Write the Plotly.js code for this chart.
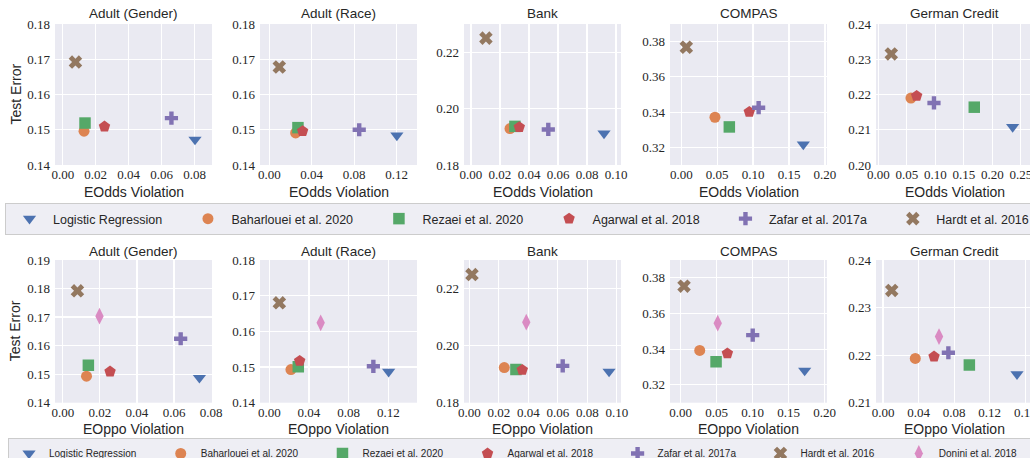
<!DOCTYPE html>
<html>
<head>
<meta charset="utf-8">
<script src="https://cdn.plot.ly/plotly-3.0.1.min.js"></script>
<style>
html, body { margin: 0; padding: 0; overflow: hidden; background: #ffffff; }
#chart { width: 1100px; height: 458px; }
</style>
</head>
<body>
<div id="chart"></div>
<script>
// ---------------- data ----------------
const datasets = ['Adult (Gender)', 'Adult (Race)', 'Bank', 'COMPAS', 'German Credit'];
const methods = ['Logistic Regression', 'Baharlouei et al. 2020', 'Rezaei et al. 2020',
                 'Agarwal et al. 2018', 'Zafar et al. 2017a', 'Hardt et al. 2016', 'Donini et al. 2018'];
const xTitles = ['EOdds Violation', 'EOppo Violation'];
const yTitle = 'Test Error';

// EOdds (top row), values per dataset in the order of `datasets`
const lrEoddsViol   = [0.0802, 0.1203, 0.0917, 0.1699, 0.2357];
const lrEoddsErr    = [0.1472, 0.1484, 0.1912, 0.3217, 0.2108];
const bahEoddsViol  = [0.0129, 0.0248, 0.0269, 0.0469, 0.0573];
const bahEoddsErr   = [0.1496, 0.1491, 0.1929, 0.3371, 0.2190];
const rezEoddsViol  = [0.0135, 0.0270, 0.0303, 0.0669, 0.1684];
const rezEoddsErr   = [0.1519, 0.1506, 0.1937, 0.3316, 0.2164];
const agaEoddsViol  = [0.0253, 0.0314, 0.0333, 0.0947, 0.0673];
const agaEoddsErr   = [0.1509, 0.1496, 0.1934, 0.3401, 0.2196];
const zafEoddsViol  = [0.0659, 0.0848, 0.0533, 0.1077, 0.0977];
const zafEoddsErr   = [0.1533, 0.1500, 0.1926, 0.3425, 0.2176];
const harEoddsViol  = [0.0077, 0.0094, 0.0103, 0.0070, 0.0228];
const harEoddsErr   = [0.1692, 0.1678, 0.2250, 0.3768, 0.2315];

// EOppo (bottom row)
const lrEoppoViol   = [0.0737, 0.1203, 0.0947, 0.1722, 0.1507];
const lrEoppoErr    = [0.1487, 0.1487, 0.1909, 0.3280, 0.2160];
const bahEoppoViol  = [0.0128, 0.0218, 0.0237, 0.0264, 0.0363];
const bahEoppoErr   = [0.1493, 0.1493, 0.1923, 0.3393, 0.2193];
const rezEoppoViol  = [0.0138, 0.0292, 0.0316, 0.0491, 0.0971];
const rezEoppoErr   = [0.1531, 0.1501, 0.1916, 0.3329, 0.2179];
const agaEoppoViol  = [0.0255, 0.0306, 0.0359, 0.0648, 0.0574];
const agaEoppoErr   = [0.1509, 0.1517, 0.1915, 0.3376, 0.2197];
const zafEoppoViol  = [0.0636, 0.1049, 0.0633, 0.1000, 0.0735];
const zafEoppoErr   = [0.1624, 0.1502, 0.1929, 0.3479, 0.2205];
const harEoppoViol  = [0.0079, 0.0101, 0.0018, 0.0046, 0.0098];
const harEoppoErr   = [0.1792, 0.1680, 0.2249, 0.3753, 0.2336];
const donEoppoViol  = [0.0198, 0.0518, 0.0386, 0.0514, 0.0630];
const donEoppoErr   = [0.1703, 0.1624, 0.2082, 0.3546, 0.2239];

// ---------------- style ----------------
const colors  = ['#4C72B0', '#DD8452', '#55A868', '#C44E52', '#8172B3', '#937860', '#DA8BC3'];
const symbols = ['triangle-down', 'circle', 'square', 'pentagon', 'cross', 'x', 'diamond-tall'];
const sizes   = [11.5, 11, 11.5, 12, 11, 12, 12];

const W = 1100, H = 458;
const colLeft = [55, 260, 464, 670, 876];
const panelW = 157;
const rowTop = [24, 260];
const rowBottom = [165, 402.7];
const xRanges = [
  [[-0.0047, 0.0905], [-0.0088, 0.1393], [-0.0048, 0.1034], [-0.0157, 0.2029], [-0.0040, 0.2714]],
  [[-0.0042, 0.0805], [-0.0094, 0.1489], [-0.0036, 0.1028], [-0.0149, 0.2032], [-0.0079, 0.1687]]
];
const yRanges = [
  [[0.14, 0.18], [0.14, 0.18], [0.18, 0.23], [0.31, 0.39], [0.20, 0.24]],
  [[0.14, 0.19], [0.14, 0.18], [0.18, 0.23], [0.31, 0.39], [0.21, 0.24]]
];
const xDticks = [[0.02, 0.04, 0.02, 0.05, 0.05], [0.02, 0.04, 0.02, 0.05, 0.04]];
const yDticks = [[0.01, 0.01, 0.02, 0.02, 0.01], [0.01, 0.01, 0.02, 0.02, 0.01]];

const rows = [
  { viol: [lrEoddsViol, bahEoddsViol, rezEoddsViol, agaEoddsViol, zafEoddsViol, harEoddsViol],
    err:  [lrEoddsErr,  bahEoddsErr,  rezEoddsErr,  agaEoddsErr,  zafEoddsErr,  harEoddsErr] },
  { viol: [lrEoppoViol, bahEoppoViol, rezEoppoViol, agaEoppoViol, zafEoppoViol, harEoppoViol, donEoppoViol],
    err:  [lrEoppoErr,  bahEoppoErr,  rezEoppoErr,  agaEoppoErr,  zafEoppoErr,  harEoppoErr,  donEoppoErr] }
];

const textColor = '#262626';
const sansFont = 'Liberation Sans, Arial, sans-serif';
const serifFont = 'Liberation Serif, Times New Roman, serif';
// trailing non-breaking spaces widen the column spacing of the horizontal legends
const legendPad = ['\u00a0\u00a0\u00a0\u00a0\u00a0', '\u00a0\u00a0\u00a0\u00a0\u00a0\u00a0\u00a0'];

const traces = [];
const layout = {
  width: W, height: H,
  margin: { l: 0, r: 0, t: 0, b: 0, pad: 0, autoexpand: false },
  paper_bgcolor: '#ffffff',
  plot_bgcolor: '#EAEAF2',
  font: { family: sansFont, color: textColor },
  showlegend: true,
  annotations: [],
  legend: {
    orientation: 'h', xref: 'paper', yref: 'paper',
    x: 5 / W, xanchor: 'left', y: (H - 203) / H, yanchor: 'top',
    bgcolor: '#EEEEF4', bordercolor: '#CCCCCC', borderwidth: 1,
    font: { family: sansFont, size: 12.5, color: textColor },
    itemwidth: 37, traceorder: 'normal'
  },
  legend2: {
    orientation: 'h', xref: 'paper', yref: 'paper',
    x: 8 / W, xanchor: 'left', y: (H - 438) / H, yanchor: 'top',
    bgcolor: '#EEEEF4', bordercolor: '#CCCCCC', borderwidth: 1,
    font: { family: sansFont, size: 10, color: textColor },
    itemwidth: 30, traceorder: 'normal'
  }
};

for (let r = 0; r < 2; r++) {
  const yd = [(H - rowBottom[r]) / H, (H - rowTop[r]) / H];
  for (let c = 0; c < 5; c++) {
    const idx = r * 5 + c + 1;
    const sfx = idx === 1 ? '' : String(idx);
    const xd = [colLeft[c] / W, (colLeft[c] + panelW) / W];
    layout['xaxis' + sfx] = {
      domain: xd, anchor: 'y' + sfx,
      range: xRanges[r][c], tick0: 0, dtick: xDticks[r][c], tickformat: '.2f',
      showgrid: true, gridcolor: '#ffffff', gridwidth: 1.2, zeroline: false,
      showline: false, ticks: '', fixedrange: true,
      tickfont: { family: serifFont, size: 13, color: textColor }
    };
    layout['yaxis' + sfx] = {
      domain: yd, anchor: 'x' + sfx,
      range: yRanges[r][c], tick0: 0, dtick: yDticks[r][c], tickformat: '.2f',
      showgrid: true, gridcolor: '#ffffff', gridwidth: 1.2, zeroline: false,
      showline: false, ticks: '', fixedrange: true, ticklabelstandoff: 4,
      tickfont: { family: serifFont, size: 13, color: textColor }
    };
    // panel title
    layout.annotations.push({
      text: datasets[c], xref: 'paper', yref: 'paper', showarrow: false,
      x: (colLeft[c] + panelW / 2) / W, y: (H - (r === 0 ? 14 : 251.5)) / H,
      xanchor: 'center', yanchor: 'middle',
      font: { family: sansFont, size: 13.5, color: textColor }
    });
    // x axis title
    layout.annotations.push({
      text: xTitles[r], xref: 'paper', yref: 'paper', showarrow: false,
      x: (colLeft[c] + panelW / 2) / W, y: (H - (r === 0 ? 192 : 429)) / H,
      xanchor: 'center', yanchor: 'middle',
      font: { family: sansFont, size: 14, color: textColor }
    });
    const data = rows[r];
    for (let m = 0; m < data.viol.length; m++) {
      traces.push({
        type: 'scatter', mode: 'markers',
        x: [data.viol[m][c]], y: [data.err[m][c]],
        xaxis: 'x' + sfx, yaxis: 'y' + sfx,
        name: methods[m] + legendPad[r], legendgroup: 'r' + r + 'm' + m,
        legend: r === 0 ? 'legend' : 'legend2',
        showlegend: c === 0,
        marker: { symbol: symbols[m], size: sizes[m], color: colors[m], line: { width: 0 } },
        hoverinfo: 'skip'
      });
    }
  }
  // y axis title
  layout.annotations.push({
    text: yTitle, xref: 'paper', yref: 'paper', showarrow: false,
    x: 15 / W, y: (H - (rowTop[r] + rowBottom[r]) / 2) / H,
    xanchor: 'center', yanchor: 'middle', textangle: -90,
    font: { family: sansFont, size: 14, color: textColor }
  });
}

Plotly.newPlot('chart', traces, layout, { displayModeBar: false, staticPlot: true });
</script>
</body>
</html>
